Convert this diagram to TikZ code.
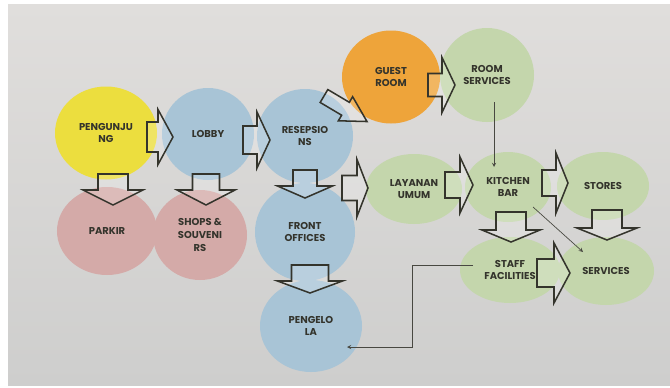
\documentclass[tikz,border=0pt]{standalone}
\usepackage{fontspec}
\setmainfont{Poppins}
\usepackage{color}
\usepackage{tikz}
\usetikzlibrary{shapes.geometric,calc}

\definecolor{papertop}{RGB}{224,222,220}
\definecolor{paperbot}{RGB}{206,206,205}
\definecolor{yel}{RGB}{236,222,62}
\definecolor{blu}{RGB}{168,196,214}
\definecolor{pnk}{RGB}{212,170,168}
\definecolor{org}{RGB}{238,164,58}
\definecolor{grn}{RGB}{196,214,172}
\definecolor{ink}{RGB}{52,52,44}

\tikzset{
  bubble/.style={ellipse, inner sep=0pt, align=center, text=ink,
    font=\fontsize{8.5}{11}\selectfont\bfseries},
  fatarrow/.style={draw=ink, line width=1.3pt, line join=miter,
    fill=white, fill opacity=0.2},
  thinarrow/.style={draw=ink!90, line width=0.6pt, -stealth}
}

% tail, angle, length, shaft width, head width, head length
\newcommand{\blockarrow}[6]{%
  \draw[fatarrow, shift={(#1)}, rotate=#2]
    (0,{-#4/2}) -- ({#3-#6},{-#4/2}) -- ({#3-#6},{-#5/2}) -- (#3,0)
    -- ({#3-#6},{#5/2}) -- ({#3-#6},{#4/2}) -- (0,{#4/2}) -- cycle;}

\begin{document}
\begin{tikzpicture}[x=0.03cm, y=-0.03cm]
\fill[white] (0,0) rectangle (670,387);
\shade[top color=papertop, bottom color=paperbot] (8,4) rectangle (670,385);

\draw (106,133) node[bubble, fill=yel, minimum width=3.06cm, minimum height=2.79cm](peng){PENGUNJU\\NG}
    (208,134) node[bubble, fill=blu, minimum width=2.76cm, minimum height=2.76cm](lobby){LOBBY}
    (305,136) node[bubble, fill=blu, minimum width=2.88cm, minimum height=2.82cm](resep){RESEPSIO\\NS}
    (107,231) node[bubble, fill=pnk, minimum width=3.0cm, minimum height=2.64cm](parkir){PARKIR}
    (200,235) node[bubble, fill=pnk, minimum width=2.82cm, minimum height=2.7cm](shops){SHOPS \&\\SOUVENI\\RS}
    (305,232) node[bubble, fill=blu, minimum width=3.0cm, minimum height=2.94cm](front){FRONT\\OFFICES}
    (311,326) node[bubble, fill=blu, minimum width=3.06cm, minimum height=2.76cm](pengelola){PENGELO\\LA}
    (391,77) node[bubble, fill=org, minimum width=2.94cm, minimum height=2.79cm](guest){GUEST\\ROOM}
    (487,75) node[bubble, fill=grn, minimum width=2.82cm, minimum height=2.82cm](room){ROOM\\SERVICES}
    (414,189) node[bubble, fill=grn, minimum width=2.88cm, minimum height=2.1cm](layanan){LAYANAN\\UMUM}
    (508,187) node[bubble, fill=grn, minimum width=2.58cm, minimum height=2.1cm](kitchen){KITCHEN\\BAR}
    (603,186) node[bubble, fill=grn, minimum width=2.76cm, minimum height=2.04cm](stores){STORES}
    (510,270) node[bubble, fill=grn, minimum width=3.0cm, minimum height=1.98cm](staff){STAFF\\FACILITIES}
    (606,271) node[bubble, fill=grn, minimum width=2.88cm, minimum height=2.04cm](services){SERVICES};

% big outlined arrows
\blockarrow{$(peng)+(41,4)$}{0}{26}{30}{55}{15}
\blockarrow{$(lobby)+(35,6)$}{0}{27}{28}{56}{13}
\blockarrow{$(resep)+(19,-40)$}{-30.7}{50}{15}{28}{25}
\blockarrow{$(guest)+(37,8)$}{0}{27}{23}{55}{13}
\blockarrow{$(layanan)+(-72,-1)$}{0}{26}{25}{57}{11}
\blockarrow{$(kitchen)+(-63,-2)$}{0}{28}{26}{56}{13}
\blockarrow{$(stores)+(-61,-3)$}{0}{26}{26}{60}{12}
\blockarrow{$(staff)+(27,3)$}{0}{33}{28}{60}{16}
\blockarrow{$(peng)+(7,41)$}{-90}{31}{30}{60}{15}
\blockarrow{$(lobby)+(-2,40)$}{-90}{31}{27}{58}{15}
\blockarrow{$(resep)+(0,34)$}{-90}{28}{24}{55}{12}
\blockarrow{$(front)+(5,33)$}{-90}{28}{37}{65}{12}
\blockarrow{$(kitchen)+(3,25)$}{-90}{30}{30}{58}{12}
\blockarrow{$(stores)+(4,24)$}{-90}{30}{30}{60}{12}

% thin arrows
\draw[thinarrow] ($(room)+(7,27)$) -- ($(kitchen)+(-14,-20)$);
\draw[thinarrow] ($(kitchen)+(25,20)$) -- ($(services)+(-23,-19)$);
\draw[thinarrow] ($(staff)+(-37,-5)$) -| ($(pengelola)+(101,21)$) -- ($(pengelola)+(36,21)$);
\end{tikzpicture}
\end{document}
